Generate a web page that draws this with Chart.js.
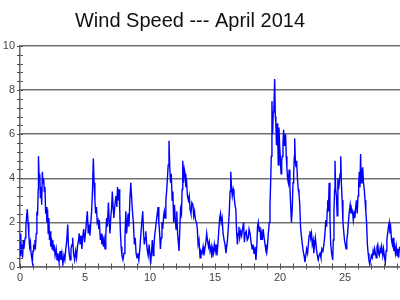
<!DOCTYPE html>
<html>
<head>
<meta charset="utf-8">
<script src="https://cdn.jsdelivr.net/npm/chart.js@4"></script>
<style>
  html, body { margin: 0; padding: 0; background: #fff; }
</style>
</head>
<body>
<canvas id="wind" width="400" height="300"></canvas>
<script>
const chartTitle = 'Wind Speed --- April 2014';

// day of month (0 = start of 1 April) and wind speed
const dayOfMonth = [
  0.00, 0.05, 0.10, 0.15, 0.20, 0.25, 0.30, 0.35, 0.40, 0.45, 0.50, 0.56, 0.62, 0.68, 0.74, 0.80, 0.85, 0.90, 0.95,
  1.00, 1.05, 1.10, 1.15, 1.20, 1.25, 1.30, 1.35, 1.40, 1.42, 1.47, 1.52, 1.57, 1.62, 1.67, 1.72, 1.77, 1.82, 1.87, 1.92, 1.97,
  2.02, 2.07, 2.12, 2.17, 2.22, 2.27, 2.32, 2.37, 2.42, 2.47, 2.52, 2.57, 2.62, 2.70, 2.78, 2.85, 2.92,
  3.00, 3.08, 3.15, 3.22, 3.30, 3.38, 3.45, 3.52, 3.60, 3.67, 3.72, 3.78, 3.85, 3.92,
  4.00, 4.05, 4.12, 4.20, 4.28, 4.35, 4.42, 4.50, 4.56, 4.62, 4.70, 4.76, 4.82, 4.90, 4.97,
  5.05, 5.12, 5.18, 5.25, 5.32, 5.38, 5.45, 5.52, 5.58, 5.64, 5.70, 5.76, 5.82, 5.88, 5.94,
  6.00, 6.06, 6.12, 6.18, 6.24, 6.30, 6.36, 6.42, 6.48, 6.54, 6.60, 6.66, 6.72, 6.80, 6.86, 6.92, 6.98,
  7.04, 7.10, 7.16, 7.22, 7.30, 7.38, 7.45, 7.50, 7.56, 7.62, 7.67, 7.72, 7.78, 7.84, 7.92,
  8.00, 8.07, 8.14, 8.20, 8.26, 8.32, 8.38, 8.45, 8.52, 8.58, 8.65, 8.72, 8.80, 8.86, 8.93,
  9.00, 9.07, 9.14, 9.22, 9.30, 9.37, 9.44, 9.50, 9.56, 9.62, 9.68, 9.74, 9.80, 9.86, 9.93,
  10.00, 10.05, 10.12, 10.18, 10.24, 10.30, 10.36, 10.42, 10.48, 10.56, 10.62, 10.68, 10.74, 10.80, 10.86, 10.92, 10.98,
  11.05, 11.10, 11.16, 11.22, 11.28, 11.34, 11.40, 11.46, 11.52, 11.58, 11.64, 11.70, 11.76, 11.82, 11.88, 11.94,
  12.00, 12.06, 12.12, 12.18, 12.23, 12.30, 12.35, 12.42, 12.47, 12.52, 12.58, 12.64, 12.70, 12.76, 12.82, 12.88, 12.95,
  13.02, 13.08, 13.15, 13.22, 13.30, 13.36, 13.42, 13.50, 13.58, 13.64, 13.70, 13.77, 13.85, 13.92,
  14.00, 14.08, 14.15, 14.22, 14.30, 14.36, 14.42, 14.50, 14.56, 14.62, 14.70, 14.75, 14.82, 14.88, 14.95,
  15.02, 15.08, 15.15, 15.22, 15.30, 15.36, 15.42, 15.48, 15.55, 15.62, 15.70, 15.77, 15.84, 15.90, 15.96,
  16.03, 16.10, 16.16, 16.21, 16.27, 16.33, 16.40, 16.46, 16.53, 16.60, 16.66, 16.72, 16.78, 16.84, 16.90, 16.98,
  17.05, 17.12, 17.20, 17.26, 17.32, 17.40, 17.48, 17.56, 17.62, 17.70, 17.77, 17.85, 17.92,
  18.00, 18.07, 18.15, 18.22, 18.27, 18.33, 18.40, 18.46, 18.52, 18.58, 18.64, 18.70, 18.78, 18.85, 18.92, 18.97,
  19.03, 19.10, 19.18, 19.23, 19.28, 19.33, 19.38, 19.43, 19.48, 19.53, 19.59, 19.64, 19.68, 19.73, 19.78, 19.82, 19.87, 19.92, 19.97,
  20.02, 20.08, 20.13, 20.18, 20.23, 20.28, 20.33, 20.38, 20.43, 20.48, 20.53, 20.58, 20.64, 20.70, 20.76, 20.82, 20.88, 20.94,
  21.00, 21.05, 21.10, 21.13, 21.18, 21.23, 21.28, 21.34, 21.40, 21.46, 21.52, 21.58, 21.64, 21.72, 21.78, 21.85, 21.92, 21.98,
  22.05, 22.12, 22.18, 22.24, 22.30, 22.36, 22.42, 22.48, 22.55, 22.60, 22.66, 22.72, 22.80, 22.87, 22.94,
  23.00, 23.08, 23.15, 23.22, 23.30, 23.38, 23.46, 23.52, 23.58, 23.64, 23.67, 23.72, 23.78, 23.84, 23.90, 23.97,
  24.05, 24.10, 24.15, 24.20, 24.23, 24.28, 24.34, 24.40, 24.45, 24.50, 24.56, 24.62, 24.67, 24.72, 24.78, 24.84, 24.90, 24.96,
  25.02, 25.08, 25.14, 25.20, 25.26, 25.33, 25.40, 25.46, 25.52, 25.58, 25.64, 25.70, 25.76, 25.82, 25.88, 25.94,
  26.00, 26.05, 26.10, 26.15, 26.20, 26.25, 26.30, 26.36, 26.42, 26.48, 26.54, 26.60, 26.66, 26.72, 26.78, 26.84, 26.90, 26.96,
  27.03, 27.10, 27.16, 27.22, 27.28, 27.34, 27.40, 27.46, 27.52, 27.58, 27.64, 27.70, 27.76, 27.82, 27.90, 27.96,
  28.04, 28.10, 28.16, 28.22, 28.28, 28.34, 28.40, 28.46, 28.52, 28.58, 28.64, 28.70, 28.76, 28.82, 28.88, 28.94,
  29.00, 29.06, 29.12, 29.20
];

const windSpeed = [
  0.5, 1.5, 0.6, 1.0, 0.4, 1.2, 0.8, 1.1, 1.3, 1.8, 2.2, 2.6, 2.0, 1.4, 0.9, 1.1, 0.6, 0.4, 0.2,
  0.7, 1.0, 0.8, 1.2, 1.0, 1.5, 2.5, 2.3, 3.5, 5.0, 4.0, 4.2, 3.1, 3.6, 2.8, 4.3, 3.8, 4.0, 3.4, 3.6, 2.4,
  2.7, 2.0, 2.6, 1.5, 2.2, 1.2, 1.6, 0.9, 1.3, 0.8, 1.2, 0.7, 1.0, 0.5, 0.8, 0.3, 0.6,
  0.2, 0.7, 0.3, 0.6, 0.1, 0.5, 0.3, 0.8, 1.2, 1.9, 1.0, 0.6, 0.3, 0.8,
  1.0, 1.3, 0.6, 0.3, 0.7, 0.4, 0.9, 1.2, 1.5, 1.0, 1.4, 0.8, 1.3, 1.7, 1.1,
  1.6, 2.1, 2.5, 1.5, 1.9, 1.4, 2.0, 2.6, 3.5, 4.9, 3.8, 3.0, 2.4, 2.7, 2.0,
  2.1, 1.7, 1.9, 1.2, 1.5, 1.0, 1.4, 0.9, 1.2, 0.8, 1.4, 2.2, 1.8, 2.9, 2.1, 1.5, 2.2,
  2.6, 3.4, 2.7, 2.2, 2.8, 3.2, 2.7, 3.6, 3.0, 3.5, 2.6, 1.6, 0.9, 0.5, 0.3,
  0.6, 1.2, 2.5, 1.5, 2.0, 2.4, 1.8, 3.0, 3.8, 3.2, 2.5, 2.0, 1.0, 1.3, 0.6,
  0.4, 0.6, 0.3, 0.8, 1.5, 2.0, 2.5, 1.6, 1.0, 1.3, 1.6, 1.0, 0.7, 0.5, 1.0,
  0.5, 0.1, 0.7, 1.2, 0.5, 0.9, 1.4, 1.7, 2.0, 2.4, 2.7, 2.0, 1.5, 0.8, 1.3, 2.0, 1.7,
  2.3, 2.5, 2.2, 3.0, 3.4, 4.0, 4.6, 5.7, 4.5, 3.8, 4.2, 3.0, 3.4, 2.0, 2.8, 2.2,
  1.7, 2.5, 1.5, 1.1, 0.7, 1.8, 2.6, 2.4, 3.5, 4.8, 3.8, 4.4, 4.2, 3.6, 3.8, 3.2, 3.0,
  3.2, 2.6, 2.4, 2.9, 2.8, 2.3, 2.5, 2.1, 2.0, 1.7, 1.0, 1.2, 0.4, 0.7,
  0.6, 0.9, 0.5, 0.8, 1.1, 1.5, 1.2, 0.9, 1.1, 0.7, 0.9, 0.4, 0.8, 0.6, 1.0,
  0.7, 1.0, 0.5, 1.0, 1.7, 2.2, 2.4, 2.0, 2.2, 1.5, 1.2, 1.0, 0.6, 0.9, 1.2,
  1.8, 2.5, 3.4, 4.3, 3.6, 3.2, 3.5, 3.3, 2.8, 2.6, 1.6, 1.0, 1.5, 1.8, 1.3, 1.6,
  1.4, 1.7, 2.0, 1.1, 1.5, 1.6, 1.2, 1.3, 1.7, 1.5, 1.1, 0.8, 1.0,
  0.6, 0.9, 0.3, 1.0, 1.8, 2.0, 1.6, 1.8, 1.2, 1.5, 1.2, 1.7, 1.3, 1.0, 0.7, 0.6,
  0.9, 1.5, 2.0, 2.8, 3.8, 5.0, 7.5, 6.0, 7.0, 7.2, 8.5, 6.8, 6.5, 5.5, 6.5, 5.8, 4.6, 6.3, 5.5,
  5.0, 4.2, 4.8, 5.0, 5.6, 6.2, 5.5, 5.8, 6.0, 5.0, 4.5, 4.0, 3.8, 4.4, 3.6, 2.8, 2.0, 2.6,
  3.8, 4.2, 5.0, 5.8, 4.8, 4.5, 4.8, 4.0, 3.5, 3.3, 2.8, 1.8, 1.4, 1.0, 0.7, 0.5, 0.2, 0.5,
  0.8, 0.6, 1.0, 1.4, 1.6, 1.3, 1.5, 1.0, 1.2, 0.6, 1.0, 1.3, 0.8, 0.5, 0.3,
  0.5, 0.6, 0.4, 0.8, 0.7, 1.0, 1.5, 2.1, 1.8, 2.6, 3.0, 2.5, 3.8, 2.2, 1.0, 0.6,
  0.3, 1.2, 2.5, 3.5, 4.8, 3.5, 3.2, 2.3, 4.0, 3.5, 3.8, 4.2, 5.0, 3.8, 3.0, 2.0, 1.6, 1.2,
  1.0, 0.8, 1.2, 1.5, 2.0, 2.5, 2.8, 2.4, 2.6, 2.5, 2.1, 2.4, 2.2, 2.7, 3.0, 2.4,
  3.2, 3.7, 4.3, 3.6, 5.1, 3.8, 4.2, 4.5, 3.8, 3.5, 3.0, 2.5, 2.0, 1.0, 0.6, 0.3, 0.1, 0.3,
  0.5, 0.4, 0.7, 0.5, 0.8, 0.6, 0.4, 0.9, 1.0, 0.6, 0.5, 0.8, 0.6, 0.9, 0.5, 0.8,
  0.4, 0.2, 0.7, 1.2, 1.5, 1.8, 2.0, 1.5, 1.7, 1.2, 1.0, 1.3, 0.7, 0.9, 0.6, 0.9,
  0.5, 0.8, 0.4, 0.9
];

const yRange = [0, 10];
const xRange = [0, 29.23];
const yLabelStep = 2;
const xLabelStep = 5;
const yMinorStep = 0.4;
const xMinorStep = 1;

// short tick marks that cross both axis lines
const crossTicks = {
  id: 'crossTicks',
  afterLayout(chart) {
    // the original title sits a little left of the page centre
    chart.titleBlock.left -= 10;
    chart.titleBlock.right -= 10;
  },
  afterDraw(chart) {
    const { ctx, chartArea } = chart;
    const x = chart.scales.x, y = chart.scales.y;
    ctx.save();
    ctx.strokeStyle = '#555';
    ctx.lineWidth = 1;
    ctx.beginPath();
    for (let k = 0; k * yMinorStep <= yRange[1] + 1e-9; k++) {
      const py = Math.round(y.getPixelForValue(k * yMinorStep)) + 0.5;
      ctx.moveTo(chartArea.left - 3, py);
      ctx.lineTo(chartArea.left + 3, py);
    }
    for (let d = 0; d <= xRange[1]; d += xMinorStep) {
      const px = Math.round(x.getPixelForValue(d)) + 0.5;
      ctx.moveTo(px, chartArea.bottom - 3);
      ctx.lineTo(px, chartArea.bottom + 3);
    }
    ctx.stroke();
    ctx.restore();
  }
};

const points = dayOfMonth.map((d, i) => ({ x: d, y: windSpeed[i] }));

new Chart(document.getElementById('wind').getContext('2d'), {
  type: 'line',
  data: {
    datasets: [{
      data: points,
      borderColor: '#0000ff',
      borderWidth: 1.4,
      pointRadius: 0,
      tension: 0,
      fill: false
    }]
  },
  options: {
    responsive: false,
    animation: false,
    devicePixelRatio: 1,
    layout: { padding: 0 },
    plugins: {
      legend: { display: false },
      tooltip: { enabled: false },
      title: {
        display: true,
        text: chartTitle,
        color: '#111',
        font: { family: 'Liberation Sans, Arial, sans-serif', size: 20, weight: 'normal' },
        padding: { top: 9, bottom: 13 }
      }
    },
    scales: {
      x: {
        type: 'linear',
        min: xRange[0],
        max: xRange[1],
        afterFit: (s) => { s.height = 33.5; },
        ticks: {
          stepSize: xLabelStep,
          includeBounds: false,
          maxRotation: 0,
          padding: 5,
          color: '#444',
          font: { family: 'Liberation Sans, Arial, sans-serif', size: 11 }
        },
        grid: { display: false, drawTicks: false },
        border: { display: true, color: '#666', width: 1.5 }
      },
      y: {
        min: yRange[0],
        max: yRange[1],
        afterFit: (s) => { s.width = 20; },
        ticks: {
          stepSize: yLabelStep,
          padding: 5,
          color: '#444',
          font: { family: 'Liberation Sans, Arial, sans-serif', size: 11 }
        },
        grid: { color: '#707070', lineWidth: 1.5, drawTicks: false },
        border: { display: true, color: '#666', width: 1.5 }
      }
    }
  },
  plugins: [crossTicks]
});
</script>
</body>
</html>
